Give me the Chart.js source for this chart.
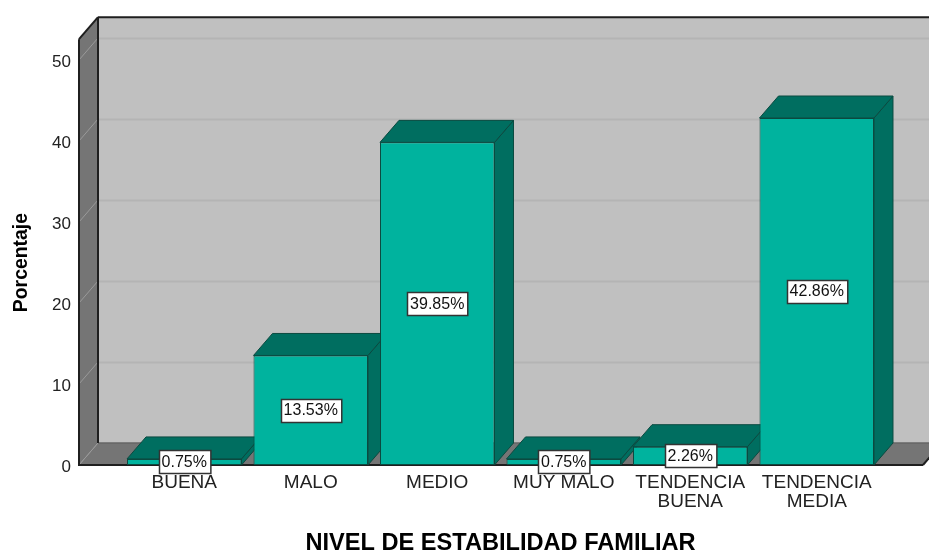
<!DOCTYPE html>
<html><head><meta charset="utf-8">
<style>html,body{margin:0;padding:0;background:#fff;overflow:hidden}#w{width:929px;height:550px;position:relative}</style>
<script src="https://cdn.jsdelivr.net/npm/chart.js@4"></script></head>
<body><div id="w"><canvas id="c" width="929" height="550"></canvas></div>
<script>
const categories = ["BUENA","MALO","MEDIO","MUY MALO",["TENDENCIA","BUENA"],["TENDENCIA","MEDIA"]];
const percentages = [0.75,13.53,39.85,0.75,2.26,42.86];
const yTicks = [0,10,20,30,40,50];
const xTitle = "NIVEL DE ESTABILIDAD FAMILIAR";
const yTitle = "Porcentaje";
const FONT = '"Liberation Sans", Arial, sans-serif';
const DX = 19, DY = 22;
const C = {wall:'#757575',back:'#c0c0c0',grid:'#b4b4b4',wallGrid:'#9a9a9a',edge:'#1f1f1f',front:'#00b39e',dark:'#006e60',barEdge:'#0b4a40'};

function poly(ctx,pts,fill,stroke,lw){
  ctx.beginPath();pts.forEach((p,i)=>i?ctx.lineTo(p[0],p[1]):ctx.moveTo(p[0],p[1]));ctx.closePath();
  if(fill){ctx.fillStyle=fill;ctx.fill();}
  if(stroke){ctx.strokeStyle=stroke;ctx.lineWidth=lw||1;ctx.stroke();}
}
function line(ctx,a,b,c,lw){ctx.beginPath();ctx.moveTo(a[0],a[1]);ctx.lineTo(b[0],b[1]);ctx.strokeStyle=c;ctx.lineWidth=lw||1;ctx.stroke();}

const box3d = {
  id:'box3d',
  beforeDatasetsDraw(chart){
    const ctx=chart.ctx, y=chart.scales.y;
    const W=chart.width, y0=y.getPixelForValue(0), yTop=y.getPixelForValue(52.6);
    const L=79, B=L+DX, R=923;
    ctx.save();
    poly(ctx,[[B,yTop-DY],[W+2,yTop-DY],[W+2,y0-DY],[B,y0-DY]],C.back);
    poly(ctx,[[L,yTop],[B,yTop-DY],[B,y0-DY],[L,y0]],C.wall);
    poly(ctx,[[L,y0],[B,y0-DY],[R+DX,y0-DY],[R,y0]],C.wall);
    yTicks.forEach(v=>{
      if(v===0) return;
      const p=Math.round(y.getPixelForValue(v));
      line(ctx,[B,p-DY+.5],[W,p-DY+.5],C.grid,2);
      line(ctx,[L,p],[B,p-DY],C.wallGrid,1);
    });
    line(ctx,[L,y0],[B,y0-DY],C.wallGrid,1);
    line(ctx,[B,y0-DY],[R+DX,y0-DY],'#666',1.5);
    line(ctx,[L,yTop],[B,yTop-DY],C.edge,2);
    line(ctx,[B,yTop-DY],[W,yTop-DY],C.edge,2);
    line(ctx,[L,yTop],[L,y0],C.edge,2);
    line(ctx,[B,yTop-DY],[B,y0-DY],C.edge,2);
    line(ctx,[L-1,y0],[R,y0],C.edge,2);
    line(ctx,[R,y0],[R+DX,y0-DY],C.edge,2);
    chart.getDatasetMeta(0).data.forEach(b=>{
      const l=b.x-b.width/2, r=b.x+b.width/2, t=b.y, bt=b.base;
      poly(ctx,[[r,t],[r+DX,t-DY],[r+DX,bt-DY],[r,bt]],C.dark,C.barEdge,1);
      poly(ctx,[[l,t],[l+DX,t-DY],[r+DX,t-DY],[r,t]],C.dark,C.barEdge,1);
    });
    ctx.restore();
  },
  afterDatasetsDraw(chart){
    const ctx=chart.ctx;
    ctx.save();
    ctx.font='16px '+FONT;ctx.textAlign='center';ctx.textBaseline='middle';
    chart.getDatasetMeta(0).data.forEach((b,i)=>{
      const txt=percentages[i].toFixed(2)+'%';
      const cy=(b.y+b.base)/2, w=ctx.measureText(txt).width+6, h=23;
      const x=Math.round(b.x-w/2)+.5, y=Math.round(cy-h/2)+.5;
      ctx.fillStyle='#fff';ctx.fillRect(x,y,w,h);
      ctx.strokeStyle='#333';ctx.lineWidth=1.5;ctx.strokeRect(x,y,w,h);
      ctx.fillStyle='#111';ctx.fillText(txt,b.x,cy+.5);
    });
    ctx.restore();
  }
};

new Chart(document.getElementById('c'),{
  type:'bar',
  data:{labels:categories,datasets:[{data:percentages,backgroundColor:C.front,borderColor:C.barEdge,borderWidth:1,
    categoryPercentage:1,barPercentage:0.905,borderSkipped:false}]},
  options:{
    responsive:false,animation:false,
    layout:{autoPadding:false,padding:{top:60,right:49,left:0,bottom:0}},
    plugins:{legend:{display:false},tooltip:{enabled:false},title:{display:false}},
    scales:{
      x:{grid:{display:false,drawTicks:false},border:{display:false},
        afterFit(s){s.height=85;},
        ticks:{color:'#222',font:{family:FONT,size:19,lineHeight:1},padding:8,maxRotation:0,autoSkip:false},
        title:{display:true,text:xTitle,color:'#000',font:{family:FONT,size:23.6,weight:'bold'},padding:{top:0,bottom:-8}}},
      y:{min:0,max:50,grid:{display:false,drawTicks:false},border:{display:false},
        afterFit(s){s.width=121;},
        afterBuildTicks(s){s.ticks=yTicks.map(v=>({value:v}));},
        ticks:{color:'#222',font:{family:FONT,size:17},padding:50,labelOffset:2.5},
        title:{display:true,text:yTitle,color:'#000',font:{family:FONT,size:19.4,weight:'bold'},padding:{top:10,bottom:0}}}
    }
  },
  plugins:[box3d]
});
</script></body></html>
